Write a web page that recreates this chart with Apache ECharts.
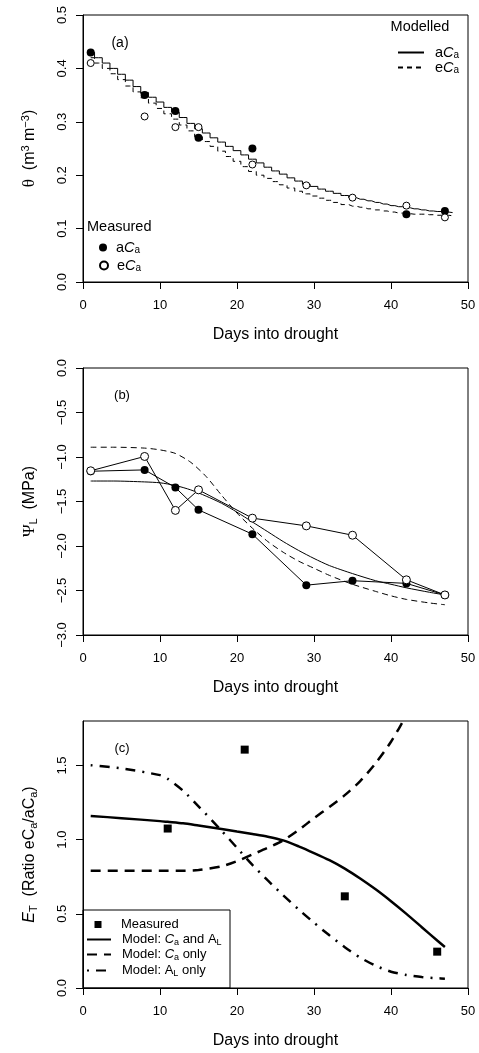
<!DOCTYPE html>
<html><head><meta charset="utf-8">
<script src="https://cdn.jsdelivr.net/npm/echarts@6/dist/echarts.min.js"></script>
<style>html,body{margin:0;padding:0;background:#fff}#c{width:479px;height:1053px}</style>
</head><body><div id="c"></div>
<script>
const FONT = 'Liberation Sans, Arial, Helvetica, sans-serif';
const SERIF = 'Liberation Serif, DejaVu Serif, serif';

// ---------- Panel (a): soil water content ----------
const measDaysA = [1, 8, 12, 15, 22, 29, 35, 42, 47];
const thetaMeasA = [0.43, 0.35, 0.32, 0.27, 0.25, null, null, 0.127, 0.133];
const thetaMeasE = [0.41, 0.31, 0.29, 0.29, 0.22, 0.181, 0.158, 0.143, 0.121];
const modelDaysA = [1,2,3,4,5,6,7,8,9,10,11,12,13,14,15,16,17,18,19,20,21,22,23,24,25,26,27,28,29,30,31,32,33,34,35,36,37,38,39,40,41,42,43,44,45,46,47,48];
const thetaModA = [0.430,0.420,0.410,0.400,0.389,0.378,0.366,0.355,0.346,0.337,0.327,0.318,0.308,0.297,0.287,0.279,0.270,0.262,0.254,0.246,0.238,0.230,0.223,0.215,0.208,0.202,0.195,0.189,0.183,0.179,0.174,0.170,0.166,0.162,0.158,0.155,0.152,0.149,0.146,0.143,0.141,0.139,0.137,0.135,0.133,0.132,0.131,0.130];
const thetaModE = [0.420,0.410,0.400,0.390,0.379,0.367,0.356,0.345,0.335,0.325,0.315,0.305,0.294,0.283,0.272,0.263,0.254,0.245,0.235,0.226,0.216,0.207,0.200,0.194,0.188,0.182,0.176,0.170,0.165,0.161,0.157,0.153,0.149,0.145,0.142,0.140,0.137,0.135,0.133,0.131,0.129,0.128,0.127,0.127,0.126,0.125,0.125,0.124];

// ---------- Panel (b): leaf water potential ----------
const measDaysB = [1, 8, 12, 15, 22, 29, 35, 42, 47];
const psiMeasA = [-1.16, -1.145, -1.343, -1.594, -1.867, -2.44, -2.39, -2.42, -2.55];
const psiMeasE = [-1.155, -0.994, -1.60, -1.369, -1.687, -1.774, -1.879, -2.38, -2.55];
const modelDaysB = [1,4,8,10,12,14,16,18,20,22,24,26,28,30,32,35,38,40,42,45,47];
const psiModA = [-1.27,-1.27,-1.28,-1.29,-1.32,-1.37,-1.44,-1.52,-1.62,-1.73,-1.84,-1.95,-2.05,-2.14,-2.22,-2.31,-2.39,-2.43,-2.47,-2.52,-2.55];
const psiModE = [-0.89,-0.89,-0.90,-0.92,-0.96,-1.06,-1.22,-1.43,-1.63,-1.80,-1.95,-2.07,-2.17,-2.25,-2.33,-2.43,-2.51,-2.56,-2.60,-2.64,-2.66];

// ---------- Panel (c): transpiration ratio ----------
const measDaysC = [11, 21, 34, 46];
const ratioMeas = [1.075, 1.607, 0.618, 0.245];
const modelDaysC = [1,5,10,11,13,15,18,20,22,24,26,28,30,32,34,36,38,40,42,44,46,47];
const ratioCaAL = [1.16,1.145,1.125,1.12,1.11,1.095,1.072,1.055,1.038,1.02,0.995,0.955,0.91,0.862,0.805,0.738,0.665,0.585,0.50,0.41,0.32,0.276];
const ratioCa   = [0.79,0.79,0.79,0.79,0.79,0.795,0.82,0.855,0.90,0.945,0.995,1.065,1.145,1.22,1.30,1.395,1.515,1.66,1.84,2.05,null,null];
const ratioAL   = [1.502,1.48,1.435,1.41,1.33,1.225,1.06,0.945,0.83,0.725,0.625,0.53,0.44,0.355,0.275,0.205,0.15,0.11,0.088,0.074,0.066,0.063];

const xTicks = [0, 10, 20, 30, 40, 50];
const yTicksC = [0, 0.5, 1.0, 1.5];

function pairs(xs, ys) { return xs.map((x, i) => [x, ys[i]]); }

const G = [
  {left: 83, top: 15, width: 385, height: 267},
  {left: 83, top: 368, width: 385, height: 267},
  {left: 83, top: 721, width: 385, height: 267}
];

function xAx(gi) {
  return {
    type: 'value', gridIndex: gi, min: xTicks[0], max: xTicks[xTicks.length - 1], interval: 10,
    name: 'Days into drought', nameLocation: 'middle', nameGap: 45,
    nameTextStyle: {fontSize: 16, color: '#000', fontFamily: FONT},
    axisLine: {show: true, onZero: false, lineStyle: {color: '#000', width: 1}},
    axisTick: {show: true, inside: false, length: 7, lineStyle: {color: '#000', width: 1}},
    axisLabel: {fontSize: 13, color: '#000', margin: 17, fontFamily: FONT},
    splitLine: {show: false}
  };
}
const richBase = {
  th: {fontFamily: SERIF, fontSize: 17, color: '#000'},
  psi: {fontFamily: SERIF, fontSize: 17, color: '#000'},
  it: {fontFamily: FONT, fontStyle: 'italic', fontSize: 16, color: '#000'},
  sup: {fontFamily: FONT, fontSize: 11, color: '#000', padding: [0, 0, 8, 0]},
  sub: {fontFamily: FONT, fontSize: 11, color: '#000', padding: [7, 0, 0, 0]}
};
function yAx(gi, min, max, interval, name, fmt) {
  return {
    type: 'value', gridIndex: gi, min: min, max: max, interval: interval,
    name: name, nameLocation: 'middle', nameRotate: 90, nameGap: 44,
    nameTextStyle: {fontSize: 16, color: '#000', fontFamily: FONT, rich: richBase},
    axisLine: {show: true, onZero: false, lineStyle: {color: '#000', width: 1}},
    axisTick: {show: true, inside: false, length: 7, lineStyle: {color: '#000', width: 1}},
    axisLabel: {fontSize: 13, color: '#000', margin: 14, rotate: 90, fontFamily: FONT, formatter: fmt},
    splitLine: {show: false}
  };
}
const f1 = v => (v < 0 ? '\u2212' : '') + Math.abs(v).toFixed(1);

const yC = yAx(2, 0, 1.8, 0.5, '{it|E}{sub|T}  (Ratio eC{sub|a}/aC{sub|a})', f1);
yC.axisLabel.customValues = yTicksC;
yC.axisTick.customValues = yTicksC;

const legText = {
  aCa_mod: 'a{it|C}{sub|a}', eCa_mod: 'e{it|C}{sub|a}',
  aCa_meas: 'a{it|C}{sub|a}', eCa_meas: 'e{it|C}{sub|a}',
  'Measured': 'Measured',
  'Model: Ca and AL': 'Model: {it|C}{sub|a} and A{sub|L}',
  'Model: Ca only': 'Model: {it|C}{sub|a} only',
  'Model: AL only': 'Model: A{sub|L} only'
};
function leg(name, left, top, w, h, fs, padL, isLine) {
  const sub = Math.round(fs * 0.72);
  const o = {
    data: [name], left: left, top: top, orient: 'vertical', padding: 0,
    itemWidth: w, itemHeight: h, selectedMode: false,
    formatter: n => legText[n],
    textStyle: {fontSize: fs, color: '#000', fontFamily: FONT, padding: [0, 0, 0, padL],
      rich: {
        it: {fontSize: fs, fontStyle: 'italic', color: '#000', fontFamily: FONT},
        sub: {fontSize: sub, color: '#000', fontFamily: FONT, padding: [6, 0, 0, 0]}
      }}
  };
  if (isLine) o.itemStyle = {opacity: 0, color: 'rgba(0,0,0,0)', borderWidth: 0};
  return o;
}

const legends = [
  leg('aCa_mod', 397, 45, 26, 10, 14.5, 6, true),
  leg('eCa_mod', 397, 60, 26, 10, 14.5, 6, true),
  leg('aCa_meas', 99, 240, 16, 8, 14.5, 0, false),
  leg('eCa_meas', 99, 258, 16, 8, 14.5, 0, false),
  leg('Measured', 94.5, 918, 24, 7, 13, 6, false),
  leg('Model: Ca and AL', 86, 933, 24, 7, 13, 6, true),
  leg('Model: Ca only', 86, 948, 24, 7, 13, 6, true),
  leg('Model: AL only', 86, 964, 24, 7, 13, 6, true)
];
legends[4].data = [{name: 'Measured', icon: 'path://M0,0L10,0L10,10L0,10Z'}];
legends[4].symbolKeepAspect = true;

const option = {
  animation: false,
  textStyle: {fontFamily: FONT},
  grid: G.map(g => Object.assign({show: true, borderColor: '#000', borderWidth: 1, backgroundColor: 'transparent', containLabel: false}, g)),
  xAxis: [xAx(0), xAx(1), xAx(2)],
  yAxis: [
    yAx(0, 0, 0.5, 0.1, '{th|θ}  (m{sup|3} m{sup|\u22123})', f1),
    yAx(1, -3, 0, 0.5, '{psi|Ψ}{sub|L}  (MPa)', f1),
    yC
  ],
  legend: legends,
  graphic: [
    {type: 'text', x: 120, y: 43, style: {text: '(a)', fill: '#000', font: '14px ' + FONT, align: 'center', verticalAlign: 'middle'}},
    {type: 'text', x: 420, y: 27, style: {text: 'Modelled', fill: '#000', font: '14.5px ' + FONT, align: 'center', verticalAlign: 'middle'}},
    {type: 'text', x: 87, y: 227, style: {text: 'Measured', fill: '#000', font: '14.5px ' + FONT, align: 'left', verticalAlign: 'middle'}},
    {type: 'text', x: 122, y: 395, style: {text: '(b)', fill: '#000', font: '13px ' + FONT, align: 'center', verticalAlign: 'middle'}},
    {type: 'text', x: 122, y: 748, style: {text: '(c)', fill: '#000', font: '13px ' + FONT, align: 'center', verticalAlign: 'middle'}},
    {type: 'rect', shape: {x: 83, y: 910, width: 147, height: 78}, style: {fill: 'none', stroke: '#000', lineWidth: 1}}
  ],
  series: [
    // (a)
    {name: 'aCa_mod', type: 'line', xAxisIndex: 0, yAxisIndex: 0, data: pairs(modelDaysA, thetaModA), step: 'middle', symbol: 'none', lineStyle: {color: '#000', width: 1}, itemStyle: {color: '#000'}},
    {name: 'eCa_mod', type: 'line', xAxisIndex: 0, yAxisIndex: 0, data: pairs(modelDaysA, thetaModE), step: 'middle', symbol: 'none', lineStyle: {color: '#000', width: 1, type: [5, 4]}, itemStyle: {color: '#000'}},
    {name: 'aCa_meas', type: 'scatter', xAxisIndex: 0, yAxisIndex: 0, data: pairs(measDaysA, thetaMeasA), symbol: 'circle', symbolSize: 8, itemStyle: {color: '#000', opacity: 1}, z: 5},
    {name: 'eCa_meas', type: 'scatter', xAxisIndex: 0, yAxisIndex: 0, data: pairs(measDaysA, thetaMeasE), symbol: 'circle', symbolSize: 7, itemStyle: {color: '#fff', borderColor: '#000', borderWidth: 1, opacity: 1}, z: 6},
    // (b)
    {name: 'b_modA', type: 'line', xAxisIndex: 1, yAxisIndex: 1, data: pairs(modelDaysB, psiModA), smooth: 0.25, symbol: 'none', lineStyle: {color: '#000', width: 1}},
    {name: 'b_modE', type: 'line', xAxisIndex: 1, yAxisIndex: 1, data: pairs(modelDaysB, psiModE), smooth: 0.25, symbol: 'none', lineStyle: {color: '#000', width: 1, type: [6, 4]}},
    {name: 'b_measA', type: 'line', xAxisIndex: 1, yAxisIndex: 1, data: pairs(measDaysB, psiMeasA), symbol: 'circle', symbolSize: 8, showAllSymbol: true, lineStyle: {color: '#000', width: 1}, itemStyle: {color: '#000', opacity: 1}, z: 5},
    {name: 'b_measE', type: 'line', xAxisIndex: 1, yAxisIndex: 1, data: pairs(measDaysB, psiMeasE), symbol: 'circle', symbolSize: 8, showAllSymbol: true, lineStyle: {color: '#000', width: 1}, itemStyle: {color: '#fff', borderColor: '#000', borderWidth: 1, opacity: 1}, z: 6},
    // (c)
    {name: 'Measured', type: 'scatter', xAxisIndex: 2, yAxisIndex: 2, data: pairs(measDaysC, ratioMeas), symbol: 'rect', symbolSize: 8, itemStyle: {color: '#000', opacity: 1}, z: 5},
    {name: 'Model: Ca and AL', type: 'line', xAxisIndex: 2, yAxisIndex: 2, data: pairs(modelDaysC, ratioCaAL), smooth: 0.25, symbol: 'none', lineStyle: {color: '#000', width: 2.5}, itemStyle: {color: '#000'}},
    {name: 'Model: Ca only', type: 'line', xAxisIndex: 2, yAxisIndex: 2, data: pairs(modelDaysC, ratioCa), smooth: 0.25, symbol: 'none', connectNulls: false, lineStyle: {color: '#000', width: 2.5, type: [10, 7]}, itemStyle: {color: '#000'}},
    {name: 'Model: AL only', type: 'line', xAxisIndex: 2, yAxisIndex: 2, data: pairs(modelDaysC, ratioAL), smooth: 0.25, symbol: 'none', lineStyle: {color: '#000', width: 2.5, type: [2, 7, 10, 7]}, itemStyle: {color: '#000'}}
  ]
};

const chart = echarts.init(document.getElementById('c'), null, {renderer: 'canvas'});
chart.setOption(option);
</script>
</body></html>
